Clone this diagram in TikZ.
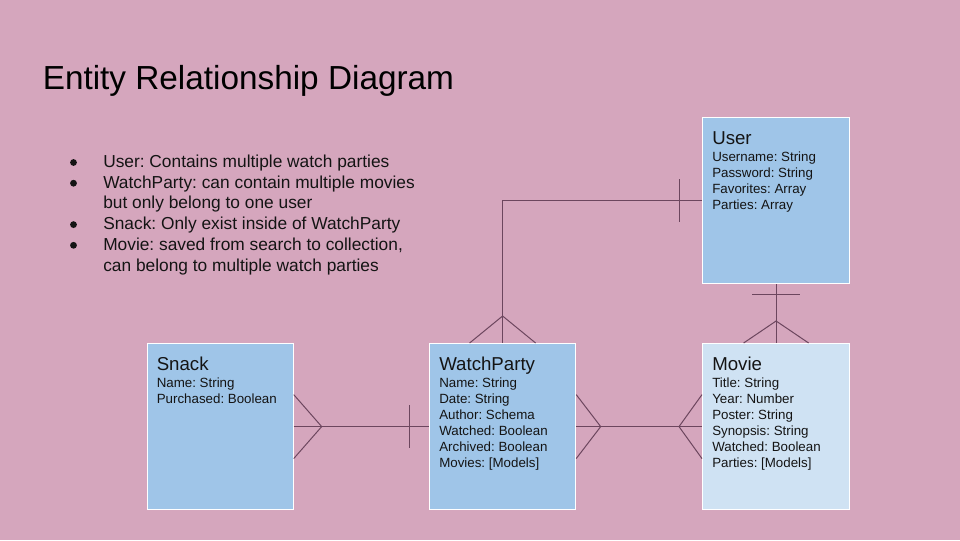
\documentclass[tikz,border=0pt]{standalone}
\usepackage{fontspec}
\setmainfont{Liberation Sans}
\frenchspacing
\definecolor{slidebg}{HTML}{D5A6BD}
\definecolor{boxblue}{HTML}{9FC5E8}
\definecolor{boxpale}{HTML}{CFE2F3}
\definecolor{relline}{RGB}{108,70,94}
\definecolor{inktext}{HTML}{141414}

\tikzset{
  entity/.style={draw=white, line width=0.9pt, anchor=north west, inner sep=0pt,
    minimum width=109.5pt, minimum height=124.5pt},
  etitle/.style={anchor=base west, inner sep=0pt, text=inktext,
    font=\fontsize{14}{16}\selectfont},
  attr/.style={anchor=base west, inner sep=0pt, text=inktext,
    font=\fontsize{10}{12}\selectfont},
  note/.style={anchor=base west, inner sep=0pt, text=inktext,
    font=\fontsize{13}{15.5}\selectfont},
  dot/.style={circle, fill=inktext, inner sep=0pt, minimum size=5.1pt},
  rel/.style={draw=relline, line width=0.75pt}
}

% attribute lines of an entity box, 16px apart below its title
\newcommand\attrlines[2]{%
  \foreach \t [count=\i] in {#2} {%
    \node[attr] (#1-a\i) at ([shift={(10,28+16*\i)}]#1.north west) {\t};
  }%
}

\begin{document}
\begin{tikzpicture}[x=0.75pt,y=-0.75pt]
  \fill[slidebg] (0,0) rectangle (960,540);
  \useasboundingbox (0,0) rectangle (960,540);

  % heading
  \node[anchor=base west, inner sep=0pt, font=\fontsize{25}{30}\selectfont]
    (heading) at (42.5,89) {Entity Relationship Diagram};

  % notes
  \node[dot] (b1) at (73.5,162.5) {};
  \node[note] (n1) at (103,167.5) {User: Contains multiple watch parties};
  \node[dot] (b2) at (73.5,183.2) {};
  \node[note] (n2) at (103,188.2) {WatchParty: can contain multiple movies};
  \node[note] (n3) at (103,208.9) {but only belong to one user};
  \node[dot] (b3) at (73.5,224.6) {};
  \node[note] (n4) at (103,229.6) {Snack: Only exist inside of WatchParty};
  \node[dot] (b4) at (73.5,245.3) {};
  \node[note] (n5) at (103,250.3) {Movie: saved from search to collection,};
  \node[note] (n6) at (103,271) {can belong to multiple watch parties};

  % entity boxes
  \node[entity, fill=boxblue, minimum width=110.25pt] (user) at (702,117) {};
  \node[entity, fill=boxblue] (snack) at (146.5,343) {};
  \node[entity, fill=boxblue] (wp) at (429,343) {};
  \node[entity, fill=boxpale, minimum width=110.25pt] (movie) at (702,343) {};

  \node[etitle] (user-t) at ([shift={(10,27.5)}]user.north west) {User};
  \attrlines{user}{Username: String, Password: String, Favorites: Array, Parties: Array}

  \node[etitle] (snack-t) at ([shift={(10,27.5)}]snack.north west) {Snack};
  \attrlines{snack}{Name: String, Purchased: Boolean}

  \node[etitle] (wp-t) at ([shift={(10,27.5)}]wp.north west) {WatchParty};
  \attrlines{wp}{Name: String, Date: String, Author: Schema, Watched: Boolean, Archived: Boolean, Movies: [Models]}

  \node[etitle] (movie-t) at ([shift={(10,27.5)}]movie.north west) {Movie};
  \attrlines{movie}{Title: String, Year: Number, Poster: String, Synopsis: String, Watched: Boolean, Parties: [Models]}

  % User (one) -- WatchParty (many)
  \draw[rel] (user.west) -| (wp.north);
  \draw[rel] ([shift={(-23,-21.5)}]user.west) -- ([shift={(-23,21.5)}]user.west);
  \draw[rel] ([shift={(-33,0)}]wp.north) -- ([shift={(0,-27)}]wp.north) -- ([shift={(33,0)}]wp.north);

  % User (one) -- Movie (many)
  \draw[rel] (user.south) -- (movie.north);
  \draw[rel] ([shift={(-24,10.5)}]user.south) -- ([shift={(24,10.5)}]user.south);
  \draw[rel] ([shift={(-32.5,0)}]movie.north) -- ([shift={(0,-22)}]movie.north) -- ([shift={(32.5,0)}]movie.north);

  % Snack (many) -- WatchParty (one)
  \draw[rel] (snack.east) -- (wp.west);
  \draw[rel] ([shift={(0,-32)}]snack.east) -- ([shift={(28,0)}]snack.east) -- ([shift={(0,32)}]snack.east);
  \draw[rel] ([shift={(-20,-21.5)}]wp.west) -- ([shift={(-20,21.5)}]wp.west);

  % WatchParty (many) -- Movie (many)
  \draw[rel] (wp.east) -- (movie.west);
  \draw[rel] ([shift={(0,-32)}]wp.east) -- ([shift={(24.5,0)}]wp.east) -- ([shift={(0,32)}]wp.east);
  \draw[rel] ([shift={(0,-32)}]movie.west) -- ([shift={(-23,0)}]movie.west) -- ([shift={(0,32)}]movie.west);
\end{tikzpicture}
\end{document}
